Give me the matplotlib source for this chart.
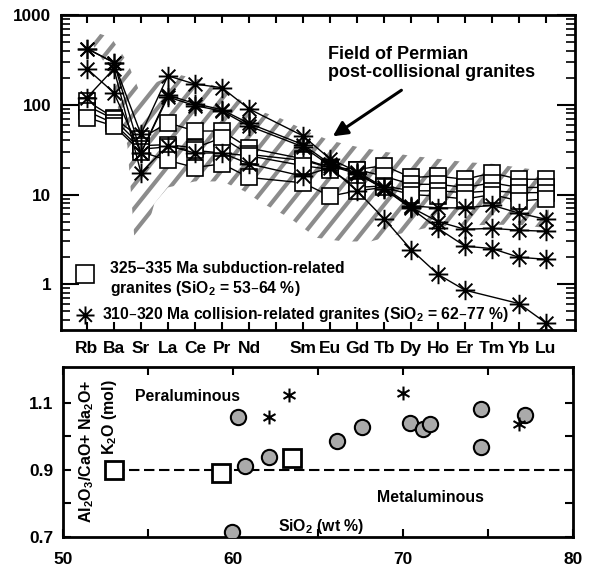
import matplotlib
matplotlib.use("Agg")
import matplotlib.pyplot as plt
import numpy as np
from matplotlib.patches import Polygon
from matplotlib.path import Path
from matplotlib.ticker import FixedLocator, LogLocator, NullFormatter

plt.rcParams["font.family"] = ["Liberation Sans", "DejaVu Sans"]
plt.rcParams["font.weight"] = "bold"
plt.rcParams["mathtext.default"] = "regular"

nan = np.nan

# --- spider diagram (top) ---
ELEMENTS = ["Rb", "Ba", "Sr", "La", "Ce", "Pr", "Nd", "", "Sm", "Eu",
            "Gd", "Tb", "Dy", "Ho", "Er", "Tm", "Yb", "Lu"]
YTICKS = [1, 10, 100, 1000]

# 325-335 Ma subduction-related granites
SUBDUCTION = [
    [110, 72, 42, 63, 51, 51, 33, nan, 25, 20, 19, 21, 15.5, 16, 14.8, 17.4, 14.8, 14.8],
    [98, 69, 35, 36, 33, 43, 28, nan, 24, 20, 19, 16, 13, 13, 12, 13.5, 12, 12],
    [85, 62, 32, 34, 31, 29, 27, nan, 21, 19, 12, 12.5, 11, 11, 10.5, 11, 10.5, 10.5],
    [72, 58, 30, 24, 20, 22, 15.5, nan, 13.5, 9.6, 11, 12, 10, 9.6, 8.9, 10, 8.5, 8.9],
]
# 310-320 Ma collision-related granites
COLLISION = [
    [423, 295, 47, 210, 170, 155, 90, nan, 45, 25, 18, 12, 7.5, 7.1, 7.1, 7.6, 6.2, 5.3],
    [423, 295, 29, 128, 103, 88, 62, nan, 36, 22, 17.4, 11.6, 7.2, 5.0, 4.1, 4.2, 4.0, 3.9],
    [252, 136, 29, 122, 98, 85, 58, nan, 34, 21, 17, 11.6, 7.0, 4.2, 2.66, 2.5, 2.0, 1.9],
    [120, 252, 17.5, 35, 29, 29, 22, nan, 16, 20, 11, 5.4, 2.44, 1.29, 0.86, nan, 0.61, 0.37],
]
# field of Permian post-collisional granites (outline)
FIELD_UP_X = [0.25, 0.9, 1.5, 1.95, 2.6, 3.3, 4.2, 5.2, 6.2, 7.2, 8.2, 9.0, 10.0, 11.0,
              12.0, 13.0, 14.0, 15.0, 16.0, 17.1]
FIELD_UP_Y = [650, 560, 300, 140, 180, 220, 190, 140, 90, 70, 50, 40, 34, 30,
              27, 25, 23, 22, 20, 18]
FIELD_LO_X = [0.25, 0.8, 1.3, 1.5, 1.75, 2.2, 2.5, 3.0, 4.0, 5.0, 5.8, 6.5, 7.5, 8.5,
              9.5, 10.5, 11.5, 12.5, 13.5, 15.0, 16.0, 17.1]
FIELD_LO_Y = [450, 250, 60, 35, 3.5, 3.8, 8, 12, 14, 14, 11, 8, 5.5, 3.3,
              3.0, 3.0, 3.6, 4.2, 4.5, 4.6, 4.6, 4.2]

# --- ASI vs SiO2 (bottom) ---
SIO2_SUB = [53.0, 59.3, 63.5]
ASI_SUB = [0.90, 0.89, 0.935]
SIO2_PERM = [60.3, 60.7, 62.1, 59.97, 66.1, 67.6, 70.4, 71.2, 71.6, 74.6, 74.6, 77.2]
ASI_PERM = [1.058, 0.912, 0.939, 0.715, 0.987, 1.028, 1.04, 1.022, 1.037, 1.082, 0.969, 1.064]
SIO2_COL = [62.1, 63.3, 70.0, 76.8]
ASI_COL = [1.058, 1.124, 1.13, 1.037]


def asterisk(n):
    verts, codes = [], []
    for k in range(n):
        a = np.pi / 2 + np.pi * k / n
        verts += [(np.cos(a), np.sin(a)), (-np.cos(a), -np.sin(a))]
        codes += [Path.MOVETO, Path.LINETO]
    return Path(verts, codes)


STAR8 = asterisk(4)
STAR6 = asterisk(3)

fig = plt.figure(figsize=(5.96, 5.70), dpi=100)
ax = fig.add_axes([0.1023, 0.4211, 0.8624, 0.5526])
ax2 = fig.add_axes([0.1057, 0.0579, 0.8557, 0.2982])

x = np.arange(len(ELEMENTS))

# hatched field: thick gray diagonals clipped to the outline
fx = FIELD_UP_X + FIELD_LO_X[::-1]
fy = FIELD_UP_Y + FIELD_LO_Y[::-1]
field = Polygon(np.column_stack([fx, fy]), closed=True, facecolor="none",
                edgecolor="none", transform=ax.transData)
ax.add_patch(field)
w_px, h_px = 514.0, 315.0
run = h_px / 1.25
for c in np.arange(-run, w_px, 19.0):
    ln, = ax.plot([c / w_px, (c + run) / w_px], [0, 1], transform=ax.transAxes,
                  color="#8c8c8c", lw=3.0, solid_capstyle="butt", zorder=1)
    ln.set_clip_path(field)

for vals in SUBDUCTION:
    v = np.array(vals, float)
    m = np.isfinite(v)
    ax.plot(x[m], v[m], color="black", lw=1.0, marker="s", ms=11.5, mfc="white",
            mec="black", mew=1.2, zorder=3)
for vals in COLLISION:
    v = np.array(vals, float)
    m = np.isfinite(v)
    ax.plot(x[m], v[m], color="black", lw=1.0, marker=STAR8, ms=14, mfc="none",
            mec="black", mew=1.4, zorder=4)

ax.set_yscale("log")
ax.set_ylim(0.31, 1000)
ax.set_xlim(-0.96, 18.07)
ax.set_xticks(x)
ax.set_xticklabels(ELEMENTS)
ax.yaxis.set_major_locator(FixedLocator(YTICKS))
ax.set_yticklabels([str(t) for t in YTICKS])
ax.yaxis.set_minor_locator(LogLocator(base=10, subs=np.arange(2, 10)))
ax.yaxis.set_minor_formatter(NullFormatter())
ax.tick_params(axis="x", direction="in", top=True, bottom=True, length=5.5, width=1.5,
               pad=8, labelsize=12.5)
ax.tick_params(axis="y", which="major", direction="in", left=True, right=True, length=13,
               width=1.5, pad=7, labelsize=12.3)
ax.tick_params(axis="y", which="minor", direction="in", left=True, right=True, length=6.5,
               width=1.2)
for s in ax.spines.values():
    s.set_linewidth(2)

ax.text(8.94, 287, "Field of Permian\npost-collisional granites", fontsize=13,
        ha="left", va="center", linespacing=1.1)
ax.annotate("", xy=(9.02, 42.8), xytext=(11.73, 151),
            arrowprops=dict(arrowstyle="-|>", lw=2.2, color="black", mutation_scale=22))

ax.plot([-0.074], [1.29], marker="s", ms=13, mfc="white", mec="black", mew=1.2, ls="none")
ax.text(0.85, 1.51, "325–335 Ma subduction-related", fontsize=11.3, va="center")
ax.text(0.85, 0.90, "granites (SiO$_2$ = 53–64 %)", fontsize=11.3, va="center")
ax.plot([-0.074], [0.46], marker=STAR8, ms=13, mfc="none", mec="black", mew=1.4, ls="none")
ax.text(0.56, 0.46, "310–320 Ma collision-related granites (SiO$_2$ = 62–77 %)",
        fontsize=11.3, va="center")

# bottom panel
ax2.plot([53.0, 80], [0.9, 0.9], color="black", lw=1.5, dashes=(5, 2.2), zorder=1)
ax2.plot(SIO2_PERM, ASI_PERM, ls="none", marker="o", ms=11, mfc="#aaaaaa", mec="black",
         mew=1.5, zorder=3)
ax2.plot(SIO2_SUB, ASI_SUB, ls="none", marker="s", ms=13, mfc="white", mec="black",
         mew=2, zorder=3)
ax2.plot(SIO2_COL, ASI_COL, ls="none", marker=STAR6, ms=10, mfc="none", mec="black",
         mew=1.5, zorder=4)

ax2.set_xlim(50, 80)
ax2.set_ylim(0.7, 1.207)
ax2.set_xticks([50, 60, 70, 80])
ax2.set_xticks([55, 65, 75], minor=True)
ax2.set_yticks([0.7, 0.8, 0.9, 1.0, 1.1])
ax2.set_yticklabels(["0.7", "", "0.9", "", "1.1"])
ax2.tick_params(axis="both", which="both", direction="in", top=True, bottom=True,
                left=True, right=True, length=6, width=1.5, labelsize=12.5)
ax2.tick_params(axis="x", pad=11)
ax2.tick_params(axis="y", pad=7)
for s in ax2.spines.values():
    s.set_linewidth(2)

ax2.text(54.24, 1.118, "Peraluminous", fontsize=11.4, ha="left", va="center")
ax2.text(71.6, 0.819, "Metaluminous", fontsize=11.4, ha="center", va="center")
ax2.text(62.65, 0.73, "SiO$_2$ (wt %)", fontsize=11.4, ha="left", va="center")
ax2.text(51.4, 1.169, "Al$_2$O$_3$/CaO+ Na$_2$O+", fontsize=11.5, rotation=90,
         ha="center", va="top")
ax2.text(52.76, 1.169, "K$_2$O (mol)", fontsize=11.5, rotation=90, ha="center", va="top")

fig.savefig("out.png", dpi=100)
